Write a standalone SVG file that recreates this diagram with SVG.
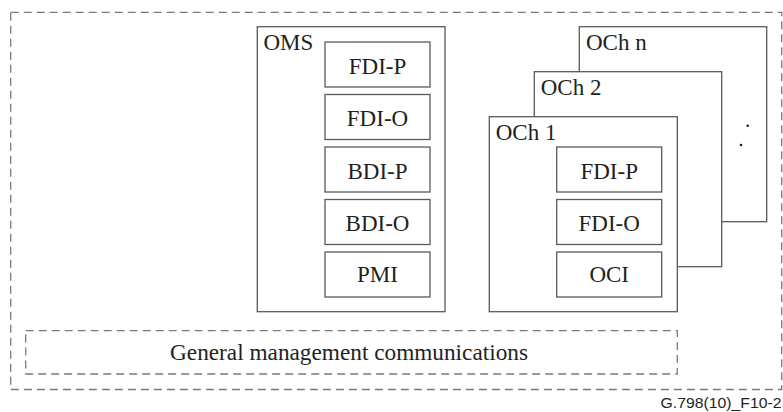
<svg xmlns="http://www.w3.org/2000/svg" width="783" height="412" viewBox="0 0 783 412">
<style>
.solid{fill:#fff;stroke:#5a5a5a;stroke-width:1.3}
.dash{fill:none;stroke:#7a7a7a;stroke-width:1.3;stroke-dasharray:8 5}
.t{font-family:'Liberation Serif','Times New Roman','DejaVu Serif',serif;font-size:23px;fill:#231f20}
.c{text-anchor:middle}
.ref{font-family:'Liberation Sans',Arial,sans-serif;font-size:14.5px;fill:#231f20;text-anchor:end}
</style>
<rect width="783" height="412" fill="#fff"/>
<g id="outer"><rect class="dash" x="10.7" y="12.3" width="771" height="377.2"/></g>
<g id="oms">
<rect class="solid" x="257.3" y="26.7" width="187.7" height="285"/>
<text class="t" x="263.5" y="50">OMS</text>
</g>
<g id="oms-fdip"><rect class="solid" x="325" y="42" width="105" height="45"/><text class="t c" x="377.5" y="73.5">FDI-P</text></g>
<g id="oms-fdio"><rect class="solid" x="325" y="94.5" width="105" height="45"/><text class="t c" x="377.5" y="126">FDI-O</text></g>
<g id="oms-bdip"><rect class="solid" x="325" y="147" width="105" height="45"/><text class="t c" x="377.5" y="178.5">BDI-P</text></g>
<g id="oms-bdio"><rect class="solid" x="325" y="199.5" width="105" height="45"/><text class="t c" x="377.5" y="230.5">BDI-O</text></g>
<g id="oms-pmi"><rect class="solid" x="325" y="252" width="105" height="45"/><text class="t c" x="377.5" y="282">PMI</text></g>
<g id="och-n">
<rect class="solid" x="579.3" y="26.7" width="187.4" height="195"/>
<text class="t" x="586" y="50">OCh n</text>
<circle cx="747.7" cy="125.7" r="1.3" fill="#231f20"/>
<circle cx="741" cy="145" r="1.3" fill="#231f20"/>
</g>
<g id="och-2">
<rect class="solid" x="534.3" y="71.7" width="187.4" height="195"/>
<text class="t" x="540.7" y="95">OCh 2</text>
</g>
<g id="och-1">
<rect class="solid" x="489.3" y="116.7" width="188" height="195"/>
<text class="t" x="495.7" y="140">OCh 1</text>
</g>
<g id="och1-fdip"><rect class="solid" x="556.7" y="147" width="105" height="45"/><text class="t c" x="609.2" y="178.5">FDI-P</text></g>
<g id="och1-fdio"><rect class="solid" x="556.7" y="199.5" width="105" height="45"/><text class="t c" x="609.2" y="230.5">FDI-O</text></g>
<g id="och1-oci"><rect class="solid" x="556.7" y="252" width="105" height="45"/><text class="t c" x="609.2" y="282">OCI</text></g>
<g id="gmc">
<rect class="dash" x="25.7" y="330.7" width="651.6" height="43.3"/>
<text class="t c" x="349" y="360" textLength="358" lengthAdjust="spacingAndGlyphs">General management communications</text>
</g>
<g id="connectors"/>
<text class="ref" x="781.5" y="407.5" textLength="121" lengthAdjust="spacingAndGlyphs">G.798(10)_F10-2</text>
</svg>
